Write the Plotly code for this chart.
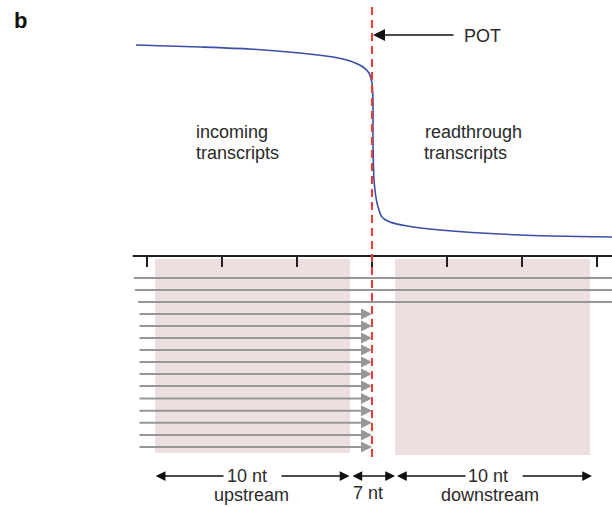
import plotly.graph_objects as go

# ---------------- data (schematic units: x = tick units, POT at 0; y = height units, genome axis at 0)
tick_positions = [-3, -2, -1, 0, 1, 2, 3]

# coverage curve (blue)
curve_x = [-3.147, -2.293, -1.627, -0.96, -0.52, -0.293, -0.12, -0.04, 0.0, 0.013, 0.013,
           0.027, 0.067, 0.133, 0.24, 0.467, 0.907, 1.973, 3.2]
curve_y = [211, 209, 207, 203, 199, 195, 189, 183, 173, 156, 116,
           76, 53, 39, 34, 30, 26, 21, 19]

# readthrough reads (no arrowheads, run past the right edge)
through_start = [-3.177, -3.16, -3.12]
through_end = [3.25, 3.25, 3.25]
through_y = [-22, -34, -46]

# incoming reads ending at the POT (arrowheads)
incoming_start = [-3.12] * 12
incoming_end = [0.0] * 12
incoming_y = [-58, -70, -82, -94, -106, -118, -130, -142.5, -154.7, -166.7, -179, -191]

# counting windows
windows_x0 = [-2.893, 0.307]
windows_x1 = [-0.293, 2.907]
windows_y0 = [-3, -3]
windows_y1 = [-197, -199]

pot_x = 0.0
pot_y_range = [249, -203]

axis_x_range = [-3.19, 3.25]

FONT = "Liberation Sans, Arial, Helvetica, sans-serif"
TXT = "#2a2a2a"
GRAY = "#979797"

fig = go.Figure()

# read lines without arrowheads
xs, ys = [], []
for s, e, y in zip(through_start, through_end, through_y):
    xs += [s, e, None]
    ys += [y, y, None]
fig.add_trace(go.Scatter(x=xs, y=ys, mode="lines", line=dict(color=GRAY, width=2),
                         hoverinfo="skip", showlegend=False))

# coverage curve
fig.add_trace(go.Scatter(x=curve_x, y=curve_y, mode="lines",
                         line=dict(color="#3a4fa5", width=1.6, shape="spline", smoothing=0.6),
                         hoverinfo="skip", showlegend=False))

shapes = []
for x0, x1, y0, y1 in zip(windows_x0, windows_x1, windows_y0, windows_y1):
    shapes.append(dict(type="rect", xref="x", yref="y", x0=x0, x1=x1, y0=y0, y1=y1,
                       fillcolor="#eddfe0", line=dict(width=0), layer="below"))
# genome axis
shapes.append(dict(type="line", xref="x", yref="y", x0=axis_x_range[0], x1=axis_x_range[1],
                   y0=0, y1=0, line=dict(color="#231f20", width=2)))
for t in tick_positions:
    shapes.append(dict(type="line", xref="x", yref="y", x0=t, x1=t, y0=0, y1=-11,
                       line=dict(color="#231f20", width=2)))
# POT dashed line
shapes.append(dict(type="line", xref="x", yref="y", x0=pot_x, x1=pot_x,
                   y0=pot_y_range[0], y1=pot_y_range[1],
                   line=dict(color="#ee3a36", width=2, dash="8px,5px")))

annotations = []
# arrowed incoming reads
for s, e, y in zip(incoming_start, incoming_end, incoming_y):
    annotations.append(dict(x=e, y=y, ax=s, ay=y, xref="x", yref="y", axref="x", ayref="y",
                            text="", showarrow=True, arrowhead=2, arrowsize=1.1,
                            arrowwidth=2, arrowcolor=GRAY))

# POT arrow + label
annotations.append(dict(x=0.013, y=221, ax=1.107, ay=221, xref="x", yref="y", axref="x",
                        ayref="y", text="", showarrow=True, arrowhead=2, arrowsize=1.6,
                        arrowwidth=1.5, arrowcolor="#111111"))

def label(x, y, text, anchor="center", size=18, bold=False):
    annotations.append(dict(x=x, y=y, xref="x", yref="y", text=("<b>%s</b>" % text) if bold else text,
                            showarrow=False, xanchor=anchor, yanchor="middle",
                            font=dict(family=FONT, size=size, color="#111111" if bold else TXT)))

label(1.2, 220, "POT", anchor="left")
label(-2.38, 124, "incoming", anchor="left")
label(-2.38, 103, "transcripts", anchor="left")
label(0.68, 124, "readthrough", anchor="left")
label(0.667, 103, "transcripts", anchor="left")
label(-4.8, 236, "b", anchor="left", size=22, bold=True)

# dimension arrows
dim_arrows = [(-1.96, -2.884), (-1.227, -0.3), (1.267, 0.333), (1.987, 2.933)]
for ax_, x_ in dim_arrows:
    annotations.append(dict(x=x_, y=-220, ax=ax_, ay=-220, xref="x", yref="y", axref="x",
                            ayref="y", text="", showarrow=True, arrowhead=2, arrowsize=1.3,
                            arrowwidth=1.5, arrowcolor="#111111"))
annotations.append(dict(x=0.307, y=-220, ax=-0.28, ay=-220, xref="x", yref="y", axref="x",
                        ayref="y", text="", showarrow=True, arrowhead=2, startarrowhead=2,
                        arrowside="end+start", arrowsize=1.3, startarrowsize=1.3,
                        arrowwidth=1.5, arrowcolor="#111111"))
label(-1.667, -220, "10 nt")
label(-1.613, -239, "upstream")
label(-0.047, -237, "7 nt")
label(1.54, -220, "10 nt")
label(1.573, -239, "downstream")

fig.update_layout(
    width=612, height=507, margin=dict(l=0, r=0, t=0, b=0),
    plot_bgcolor="white", paper_bgcolor="white",
    xaxis=dict(range=[-4.96, 3.2], visible=False, fixedrange=True),
    yaxis=dict(range=[-251, 256], visible=False, fixedrange=True),
    shapes=shapes, annotations=annotations,
)

fig.write_html("out.html", config={"displayModeBar": False},
               post_script="document.body.style.margin='0';document.body.style.overflow='hidden';")
